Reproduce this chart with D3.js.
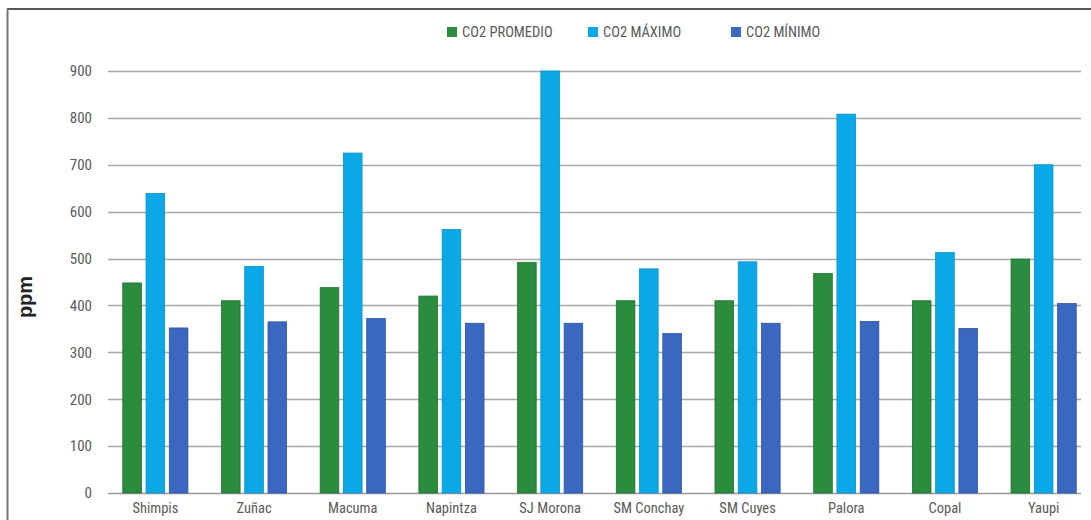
<!DOCTYPE html>
<html><head><meta charset="utf-8">
<script src="https://cdn.jsdelivr.net/npm/d3@7"></script>
<style>
body{margin:0;background:#fff;}
svg{display:block;}
text{font-family:"Liberation Sans Narrow","Roboto Condensed","Roboto",sans-serif;}
</style></head>
<body>
<svg id="c" width="1091" height="520"></svg>
<script>
const categories = ["Shimpis","Zuñac","Macuma","Napintza","SJ Morona","SM Conchay","SM Cuyes","Palora","Copal","Yaupi"];
const seriesNames = ["CO2 PROMEDIO","CO2 MÁXIMO","CO2 MÍNIMO"];
const promedio = [448,410,438,420,492,410,410,468,410,499];
const maximo   = [639,483,725,562,900,478,493,808,513,700];
const minimo   = [352,365,372,362,362,340,362,366,351,404];
const yTicks = [0,100,200,300,400,500,600,700,800,900];
const colors = ["#2a8c3c","#0aa8e6","#3a68c0"];
const strokes = ["#1f7030","#0890c8","#2d55a4"];

const svg = d3.select("#c");
// frame
svg.append("line").attr("x1",7).attr("x2",1091).attr("y1",9).attr("y2",9).attr("stroke","#222").attr("stroke-width",1.5);
svg.append("line").attr("x1",7.5).attr("x2",7.5).attr("y1",9).attr("y2",520).attr("stroke","#777").attr("stroke-width",2);

const y = d3.scaleLinear().domain([0,900]).range([493,71]);
const x0 = d3.scaleBand().domain(categories).range([106,1093]).paddingInner(0.34).paddingOuter(0.17);
const x1 = d3.scaleBand().domain(seriesNames).range([0,x0.bandwidth()]).paddingInner(0.2);

// gridlines
svg.append("g").selectAll("line").data(yTicks).join("line")
  .attr("x1",108).attr("x2",1081)
  .attr("y1",d=>Math.round(y(d))+0.5).attr("y2",d=>Math.round(y(d))+0.5)
  .attr("stroke",d=>d===0?"#999":"#a8a8a8").attr("stroke-width",1.5);

const axisFont = '"Liberation Sans Narrow","Roboto Condensed",sans-serif';
// y axis labels
const yAxis = d3.axisLeft(y).tickValues(yTicks).tickSize(0).tickPadding(0);
const ya = svg.append("g").attr("transform","translate(92,0)").call(yAxis);
ya.attr("font-family",null).attr("font-size",null);
ya.select(".domain").remove();
ya.selectAll("text").attr("font-size",15).attr("fill","#5a5a5a").style("font-family",axisFont);

// bars
const data = [promedio,maximo,minimo];
categories.forEach((c,i)=>{
  const g = svg.append("g").attr("transform",`translate(${x0(c)},0)`);
  seriesNames.forEach((s,j)=>{
    g.append("rect").attr("x",x1(s)).attr("width",x1.bandwidth())
      .attr("y",y(data[j][i])).attr("height",y(0)-y(data[j][i]))
      .attr("fill",colors[j]).attr("stroke",strokes[j]).attr("stroke-width",0.8);
  });
});

// x axis labels
const xAxis = d3.axisBottom(x0).tickSize(0).tickPadding(0);
const xa = svg.append("g").attr("transform","translate(0,506)").call(xAxis);
xa.attr("font-family",null).attr("font-size",null);
xa.select(".domain").remove();
xa.selectAll("text").attr("font-size",14.5).attr("fill","#5a5a5a").attr("dy","0.5em").style("font-family",axisFont);

// y title
svg.append("text").attr("transform","translate(32,297) rotate(-90)").attr("text-anchor","middle")
  .attr("font-size",20).attr("font-weight","bold").attr("fill","#222")
  .style("font-family",'"Liberation Sans","Roboto",sans-serif').text("ppm");

// legend
const legX = [447,588,731];
const lg = svg.append("g");
seriesNames.forEach((s,j)=>{
  lg.append("rect").attr("x",legX[j]).attr("y",27).attr("width",10).attr("height",10).attr("fill",colors[j]);
  lg.append("text").attr("x",legX[j]+15).attr("y",37).attr("font-size",14.5).attr("fill","#5a5a5a").style("font-family",axisFont).text(s);
});
</script>
</body></html>
